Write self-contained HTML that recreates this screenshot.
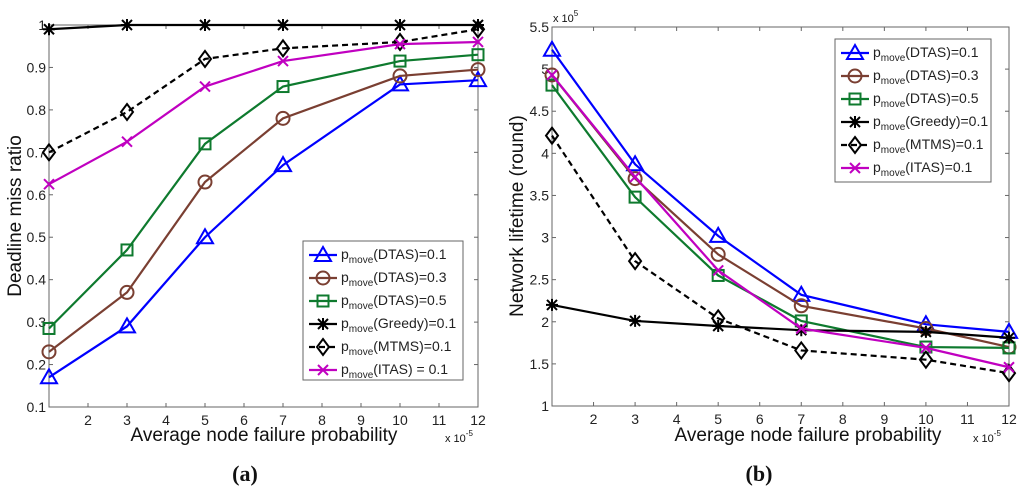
<!DOCTYPE html>
<html><head><meta charset="utf-8">
<style>
html,body{margin:0;padding:0;background:#fff;}
svg{display:block;font-family:"Liberation Sans",sans-serif;}
</style></head>
<body>
<svg id="chart" width="1024" height="494" viewBox="0 0 1024 494"></svg>
<script>
const xValues=[1,3,5,7,10,12];
const seriesNames=["DTAS)=0.1","DTAS)=0.3","DTAS)=0.5","Greedy)=0.1","MTMS)=0.1","ITAS)=0.1"];
const leftDTAS1=[0.17,0.29,0.50,0.67,0.86,0.87];
const leftDTAS3=[0.23,0.37,0.63,0.78,0.88,0.895];
const leftDTAS5=[0.285,0.47,0.72,0.855,0.915,0.93];
const leftGreedy=[0.99,1,1,1,1,1];
const leftMTMS=[0.70,0.795,0.92,0.945,0.96,0.99];
const leftITAS=[0.625,0.725,0.855,0.915,0.955,0.96];
const rightDTAS1=[5.23,3.87,3.02,2.32,1.97,1.88];
const rightDTAS3=[4.93,3.70,2.80,2.19,1.92,1.70];
const rightDTAS5=[4.81,3.48,2.55,2.01,1.70,1.69];
const rightGreedy=[2.20,2.01,1.95,1.90,1.88,1.81];
const rightMTMS=[4.21,2.72,2.04,1.66,1.55,1.39];
const rightITAS=[4.93,3.72,2.61,1.92,1.69,1.46];
const xTicks=[2,3,4,5,6,7,8,9,10,11,12];
const leftYTicks=[0.1,0.2,0.3,0.4,0.5,0.6,0.7,0.8,0.9,1];
const leftYLabels=["0.1","0.2","0.3","0.4","0.5","0.6","0.7","0.8","0.9","1"];
const rightYTicks=[1,1.5,2,2.5,3,3.5,4,4.5,5,5.5];
const rightYLabels=["1","1.5","2","2.5","3","3.5","4","4.5","5","5.5"];

const NS="http://www.w3.org/2000/svg";
const svg=document.getElementById('chart');
function mk(tag,attrs,parent){const e=document.createElementNS(NS,tag);for(const k in attrs)e.setAttribute(k,attrs[k]);(parent||svg).appendChild(e);return e;}
const styles=[
 {c:"#0000ff",m:"tri",d:""},{c:"#7a3f32",m:"circ",d:""},{c:"#0e7a2e",m:"sq",d:""},
 {c:"#000",m:"star",d:""},{c:"#000",m:"dia",d:"6,4"},{c:"#c000c0",m:"x",d:""}];
function marker(g,type,x,y,c){
 const a={fill:"none",stroke:c,"stroke-width":2};
 if(type==="tri")mk("polygon",Object.assign({points:`${x},${y-8} ${x-8},${y+6} ${x+8},${y+6}`},a),g);
 else if(type==="circ")mk("circle",Object.assign({cx:x,cy:y,r:6.5},a),g);
 else if(type==="sq")mk("rect",Object.assign({x:x-5.5,y:y-5.5,width:11,height:11},a),g);
 else if(type==="dia")mk("polygon",Object.assign({points:`${x},${y-8} ${x+6},${y} ${x},${y+8} ${x-6},${y}`},a),g);
 else if(type==="x"){mk("path",Object.assign({d:`M${x-5},${y-5}L${x+5},${y+5}M${x+5},${y-5}L${x-5},${y+5}`},a),g);}
 else if(type==="star"){mk("path",Object.assign({d:`M${x-6},${y}L${x+6},${y}M${x},${y-6}L${x},${y+6}M${x-5},${y-5}L${x+5},${y+5}M${x+5},${y-5}L${x-5},${y+5}`},a),g);}
}
function panel(cfg){
 const {x0,x1,y0,y1,ymin,ymax,yt,yl,data,name}=cfg;
 const sx=v=>x0+(v-1)/(12-1)*(x1-x0);
 const sy=v=>y1-(v-ymin)/(ymax-ymin)*(y1-y0);
 const g=mk("g",{});
 mk("rect",{x:x0,y:y0,width:x1-x0,height:y1-y0,fill:"#fff",stroke:"#666","stroke-width":1},g);
 const xa=mk("g",{},g);
 xTicks.forEach(t=>{const X=sx(t);
  mk("line",{x1:X,y1:y1,x2:X,y2:y1-4,stroke:"#666"},xa);mk("line",{x1:X,y1:y0,x2:X,y2:y0+4,stroke:"#666"},xa);
  const tx=mk("text",{x:X,y:y1+18,"font-size":14,"text-anchor":"middle",fill:"#222"},xa);tx.textContent=t;
  });
 const ya=mk("g",{},g);
 yt.forEach((t,i)=>{const Y=sy(t);
  mk("line",{x1:x0,y1:Y,x2:x0+4,y2:Y,stroke:"#666"},ya);mk("line",{x1:x1,y1:Y,x2:x1-4,y2:Y,stroke:"#666"},ya);
  const tx=mk("text",{x:x0-3,y:Y+5,"font-size":14,"text-anchor":"end",fill:"#222"},ya);tx.textContent=yl[i];
  });
 data.forEach((arr,si)=>{const s=styles[si];
  const sg=mk("g",{},g);
  mk("polyline",{points:arr.map((v,i)=>sx(xValues[i])+","+sy(v)).join(" "),fill:"none",stroke:s.c,"stroke-width":2.2,"stroke-dasharray":s.d},sg);
  arr.forEach((v,i)=>marker(sg,s.m,sx(xValues[i]),sy(v),s.c));});
 return {sx,sy};
}
function legend(x,y,w,h,name,labels){
 const g=mk("g",{});
 mk("rect",{x:x,y:y,width:w,height:h,fill:"#fff",stroke:"#666"},g);
 labels.forEach((lb,i)=>{const s=styles[i];const Y=y+12+i*23;
  const e=mk("g",{},g);
  mk("line",{x1:x+6,y1:Y+2,x2:x+34,y2:Y+2,stroke:s.c,"stroke-width":2.2,"stroke-dasharray":s.d},e);
  marker(e,s.m,x+20,Y+2,s.c);
  const t=mk("text",{x:x+38,y:Y+6,"font-size":14,fill:"#222"},e);
  t.innerHTML='p<tspan font-size="10" dy="4">move</tspan><tspan dy="-4">('+lb+'</tspan>';});
}
function txt(x,y,s,txt,name,extra){const t=mk("text",Object.assign({x:x,y:y,"font-size":s,fill:"#111"},extra||{}));t.textContent=txt;return t;}

panel({x0:49,x1:478,y0:25,y1:407,ymin:0.1,ymax:1,yt:leftYTicks,yl:leftYLabels,name:"left-plot",
 data:[leftDTAS1,leftDTAS3,leftDTAS5,leftGreedy,leftMTMS,leftITAS]});
panel({x0:552,x1:1009,y0:27,y1:406,ymin:1,ymax:5.5,yt:rightYTicks,yl:rightYLabels,name:"right-plot",
 data:[rightDTAS1,rightDTAS3,rightDTAS5,rightGreedy,rightMTMS,rightITAS]});
legend(303,241,160,139,"left-legend",["DTAS)=0.1","DTAS)=0.3","DTAS)=0.5","Greedy)=0.1","MTMS)=0.1","ITAS) = 0.1"]);
legend(835,39,156,143,"right-legend",seriesNames);
txt(264,441,19,"Average node failure probability","left-x-axis-title",{"text-anchor":"middle"});
txt(808,441,19,"Average node failure probability","right-x-axis-title",{"text-anchor":"middle"});
txt(21,216,19,"Deadline miss ratio","left-y-axis-title",{"text-anchor":"middle",transform:"rotate(-90 21 216)"});
txt(523,216,19,"Network lifetime (round)","right-y-axis-title",{"text-anchor":"middle",transform:"rotate(-90 523 216)"});
const e1=txt(445,442,11,"","left-x-exponent");e1.innerHTML='x 10<tspan dy="-6" font-size="8">-5</tspan>';
const e2=txt(973,442,11,"","right-x-exponent");e2.innerHTML='x 10<tspan dy="-6" font-size="8">-5</tspan>';
const e3=txt(553,22,11,"","right-y-exponent");e3.innerHTML='x 10<tspan dy="-6" font-size="8">5</tspan>';
txt(245,481,22,"(a)","label-a",{"text-anchor":"middle","font-family":"Liberation Serif,serif","font-weight":"bold"});
txt(759,481,22,"(b)","label-b",{"text-anchor":"middle","font-family":"Liberation Serif,serif","font-weight":"bold"});
</script>
</body></html>
